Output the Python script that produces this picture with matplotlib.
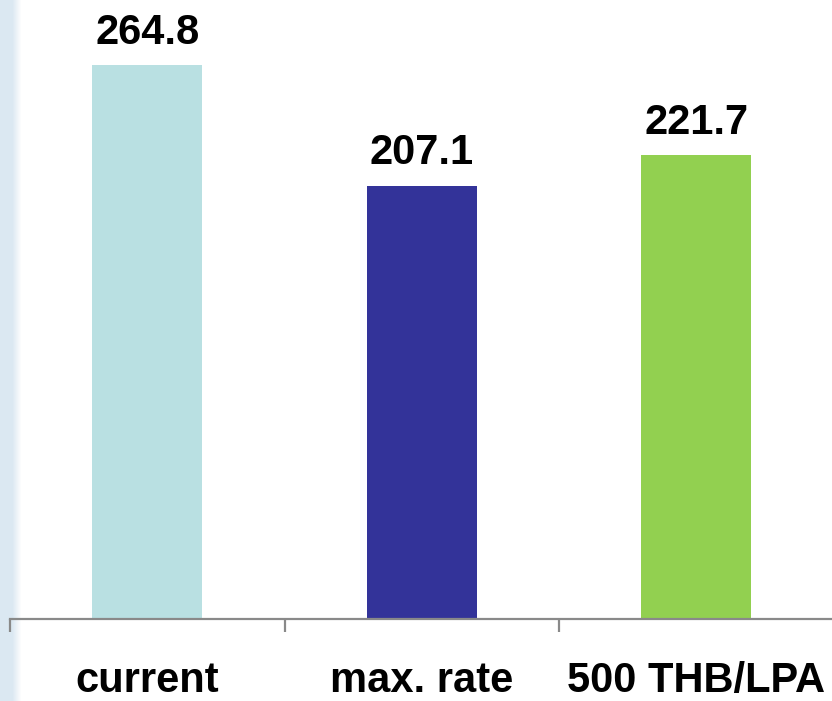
import numpy as np
import matplotlib.pyplot as plt

plt.rcParams["font.family"] = ["Liberation Sans", "DejaVu Sans"]

categories = ["current", "max. rate", "500 THB/LPA"]
values = [264.8, 207.1, 221.7]
bar_colors = ["#B9E0E2", "#333399", "#92D050"]

W, H = 832, 701
fig = plt.figure(figsize=(W / 100, H / 100), dpi=100)

# faint blue strip on the left (slide background)
bg = fig.add_axes([0, 0, 24 / W, 1])
grad = np.ones((1, 24, 3))
fade = np.clip((np.arange(24) - 12) / 9, 0, 1)
base = np.array([0.86, 0.91, 0.95])
grad[0] = base[None, :] * (1 - fade[:, None]) + fade[:, None]
bg.imshow(grad, aspect="auto", extent=[0, 1, 0, 1])
bg.axis("off")

left, right = 10, 833.5
base_y = 619
ax = fig.add_axes([left / W, (H - base_y) / H, (right - left) / W, base_y / H])
ax.patch.set_alpha(0)

x = np.arange(len(categories))
bars = ax.bar(x, values, width=0.4, color=bar_colors)
for b, v in zip(bars, values):
    ax.annotate(f"{v:.1f}", (b.get_x() + b.get_width() / 2, v),
                xytext=(0, 9), textcoords="offset points",
                ha="center", va="bottom", fontsize=30, fontweight="bold")

ax.set_xlim(-0.5, 2.5)
ax.set_ylim(0, 296)
ax.set_yticks([])
for s in ["top", "right", "left"]:
    ax.spines[s].set_visible(False)
ax.spines["bottom"].set_color("#898989")
ax.spines["bottom"].set_linewidth(1.6)

ax.set_xticks([-0.5, 0.5, 1.5, 2.5])
ax.set_xticklabels([])
ax.tick_params(axis="x", direction="out", length=9, width=1.6, color="#898989")
ax.set_xticks(x, minor=True)
ax.set_xticklabels(categories, minor=True, fontsize=30, fontweight="bold")
ax.tick_params(axis="x", which="minor", length=0, pad=30)

fig.savefig("out.png", dpi=100)
